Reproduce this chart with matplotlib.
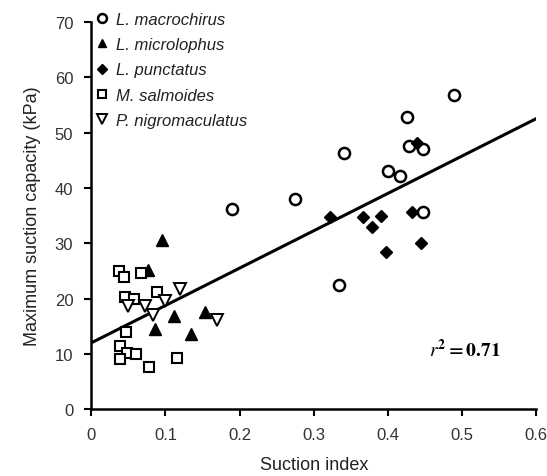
import matplotlib.pyplot as plt

plt.rcParams['font.family'] = ['Liberation Sans', 'DejaVu Sans']
plt.rcParams['mathtext.fontset'] = 'stix'

# suction index (x) and maximum suction capacity in kPa (y) per species
macro_x = [0.190, 0.275, 0.341, 0.334, 0.400, 0.416, 0.426, 0.428, 0.447, 0.447, 0.489]
macro_y = [36.2, 38.0, 46.3, 22.5, 43.0, 42.2, 52.9, 47.6, 47.1, 35.7, 56.8]

micro_x = [0.095, 0.077, 0.086, 0.111, 0.134, 0.153]
micro_y = [30.6, 25.2, 14.5, 16.8, 13.6, 17.5]

punct_x = [0.322, 0.367, 0.378, 0.391, 0.433, 0.439, 0.398, 0.445]
punct_y = [34.7, 34.7, 33.0, 35.0, 35.7, 48.2, 28.5, 30.0]

salm_x = [0.037, 0.044, 0.067, 0.088, 0.045, 0.058, 0.047, 0.039, 0.048, 0.060, 0.039, 0.116, 0.078]
salm_y = [25.0, 23.9, 24.6, 21.2, 20.2, 19.9, 13.9, 11.4, 10.1, 9.9, 9.0, 9.3, 7.7]

nigro_x = [0.119, 0.050, 0.072, 0.099, 0.083, 0.169]
nigro_y = [21.7, 18.6, 18.7, 19.6, 17.0, 16.2]

# regression line
fit_intercept = 12.0
fit_slope = 67.5
fit_x = [0.0, 0.6]

fig = plt.figure(figsize=(5.47, 4.77), dpi=100)
ax = fig.add_axes([0.167, 0.140, 0.813, 0.812])

ax.plot(fit_x, [fit_intercept + fit_slope * v for v in fit_x], c='black', lw=2.2, zorder=1)

ax.plot(macro_x, macro_y, 'o', ms=8, mfc='white', mec='black', mew=1.8, ls='none', label='L. macrochirus', zorder=3)
ax.plot(micro_x, micro_y, '^', ms=8, mfc='black', mec='black', ls='none', label='L. microlophus', zorder=3)
ax.plot(punct_x, punct_y, 'D', ms=6.5, mfc='black', mec='black', ls='none', label='L. punctatus', zorder=3)
ax.plot(salm_x, salm_y, 's', ms=7, mfc='white', mec='black', mew=1.5, ls='none', label='M. salmoides', zorder=3)
ax.plot(nigro_x, nigro_y, 'v', ms=8.5, mfc='white', mec='black', mew=1.4, ls='none', label='P. nigromaculatus', zorder=3)

leg = ax.legend(loc='upper left', bbox_to_anchor=(-0.03, 1.065), frameon=False,
                prop={'style': 'italic', 'size': 12}, handletextpad=0.3,
                labelspacing=0.62, markerscale=0.8, handlelength=1.1)
for t in leg.get_texts():
    t.set_color('#222222')

ax.text(0.455, 10.8, r'$\mathbf{\mathit{r}^2 = 0.71}$', fontsize=14,
        ha='left', va='center')

ax.set_xlim(0, 0.6)
ax.set_ylim(0, 70)
ax.set_xticks([0, 0.1, 0.2, 0.3, 0.4, 0.5, 0.6])
ax.set_xticklabels(['0', '0.1', '0.2', '0.3', '0.4', '0.5', '0.6'])
ax.set_yticks(range(0, 71, 10))

ax.spines['top'].set_visible(False)
ax.spines['right'].set_visible(False)
ax.spines['left'].set_linewidth(1.8)
ax.spines['bottom'].set_linewidth(1.8)
ax.tick_params(axis='both', direction='out', length=5, width=1.5, labelsize=12,
               labelcolor='#333333', pad=8)

ax.set_xlabel('Suction index', fontsize=13, color='#222222', labelpad=10)
ax.set_ylabel('Maximum suction capacity (kPa)', fontsize=13, color='#222222', labelpad=10)

fig.savefig('out.png', dpi=100)
